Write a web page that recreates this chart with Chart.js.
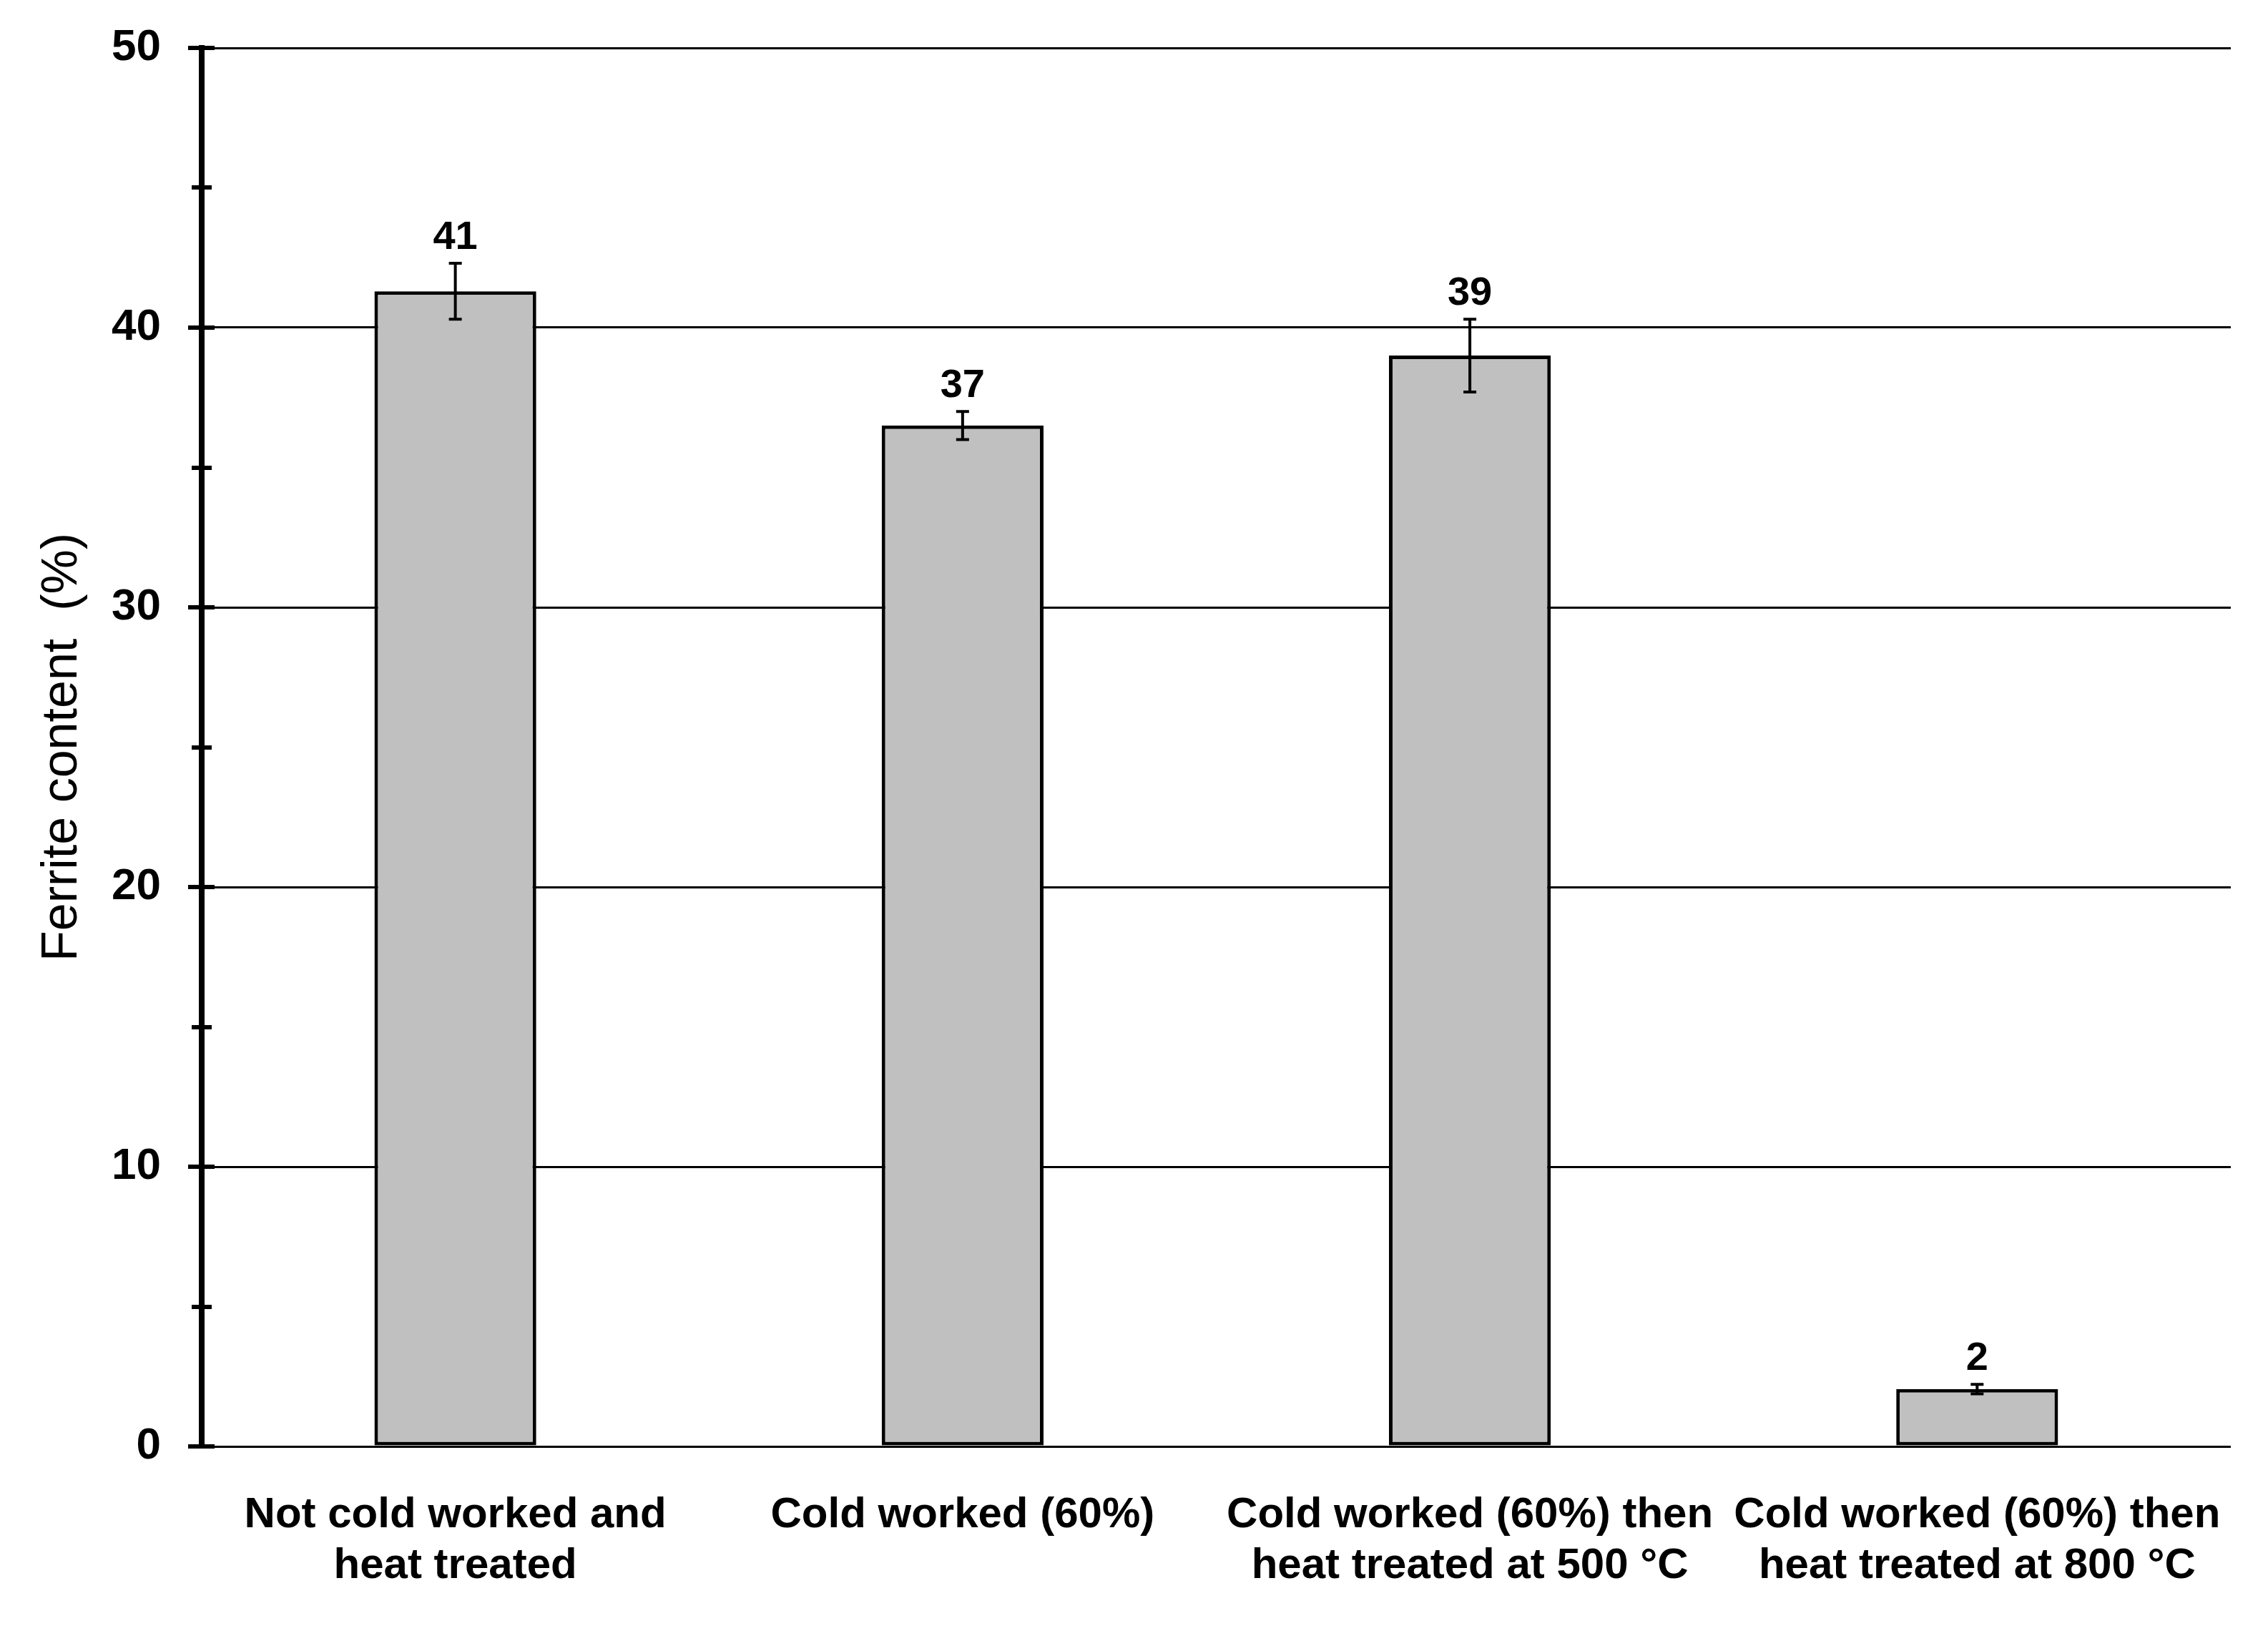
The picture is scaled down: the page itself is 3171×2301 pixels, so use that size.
<!DOCTYPE html>
<html>
<head>
<meta charset="utf-8">
<script src="https://cdn.jsdelivr.net/npm/chart.js@4/dist/chart.umd.min.js"></script>
<style>
  html, body { margin: 0; padding: 0; background: #fff; }
  canvas { display: block; }
</style>
</head>
<body>
<canvas id="ferriteChart" width="3171" height="2301"></canvas>
<script>
const categories = [
    ['Not cold worked and', 'heat treated'],
    'Cold worked (60%)',
    ['Cold worked (60%) then', 'heat treated at 500 °C'],
    ['Cold worked (60%) then', 'heat treated at 800 °C'],
];
const ferrite = [41.3, 36.5, 39.0, 2.05];
const ferriteError = [1.0, 0.5, 1.3, 0.17];
const yMin = 0;
const yMax = 50;
const majorStep = 10;
const minorStep = 5;

const FONT = "'Liberation Sans', Arial, sans-serif";

// tick marks crossing the y axis, major and minor
const axisTicks = {
    id: 'axisTicks',
    afterDatasetsDraw(chart) {
        const { ctx } = chart;
        const y = chart.scales.y;
        const x0 = chart.chartArea.left;
        ctx.save();
        ctx.strokeStyle = '#000';
        ctx.lineWidth = 6;
        for (let v = y.min; v <= y.max; v += minorStep) {
            const py = Math.round(y.getPixelForValue(v));
            const major = v % majorStep === 0;
            ctx.beginPath();
            ctx.moveTo(x0 - (major ? 19 : 14), py);
            ctx.lineTo(x0 + (major ? 18 : 14), py);
            ctx.stroke();
        }
        ctx.restore();
    },
};

// error bars and value labels above them
const errorBars = {
    id: 'errorBars',
    afterDatasetsDraw(chart) {
        const { ctx } = chart;
        const y = chart.scales.y;
        const meta = chart.getDatasetMeta(0);
        ctx.save();
        ctx.strokeStyle = '#000';
        ctx.fillStyle = '#000';
        meta.data.forEach((bar, i) => {
            const v = ferrite[i];
            const e = ferriteError[i];
            const top = y.getPixelForValue(v + e);
            const bottom = y.getPixelForValue(v - e);
            ctx.lineWidth = 4;
            ctx.beginPath();
            ctx.moveTo(bar.x, top);
            ctx.lineTo(bar.x, bottom);
            ctx.moveTo(bar.x - 9, top);
            ctx.lineTo(bar.x + 9, top);
            ctx.moveTo(bar.x - 9, bottom);
            ctx.lineTo(bar.x + 9, bottom);
            ctx.stroke();

            ctx.font = 'bold 56px ' + FONT;
            ctx.textAlign = 'center';
            ctx.textBaseline = 'alphabetic';
            ctx.fillText(String(Math.round(v)), bar.x, top - 20);
        });
        ctx.restore();
    },
};

new Chart(document.getElementById('ferriteChart'), {
    type: 'bar',
    data: {
        labels: categories,
        datasets: [
            {
                label: 'Ferrite content',
                data: ferrite,
                backgroundColor: '#c0c0c0',
                borderColor: '#000',
                borderWidth: 5,
                borderSkipped: false,
                categoryPercentage: 1,
                barPercentage: 0.319,
            },
        ],
    },
    options: {
        responsive: false,
        animation: false,
        layout: {
            padding: { top: 67, right: 45, left: 0, bottom: 0 },
        },
        plugins: {
            legend: { display: false },
            tooltip: { enabled: false },
        },
        scales: {
            x: {
                grid: { display: false, drawTicks: false },
                border: { display: false },
                ticks: {
                    color: '#000',
                    padding: 61,
                    maxRotation: 0,
                    autoSkip: false,
                    font: { family: FONT, size: 60, weight: 'bold', lineHeight: 1.18 },
                },
                afterFit(scale) {
                    scale.height = 279;
                },
            },
            y: {
                min: yMin,
                max: yMax,
                ticks: {
                    stepSize: majorStep,
                    color: '#000',
                    padding: 57,
                    font: { family: FONT, size: 62, weight: 'bold' },
                },
                grid: {
                    color: '#000',
                    lineWidth: 3,
                    drawTicks: false,
                },
                border: { display: true, color: '#000', width: 8 },
                title: {
                    display: true,
                    text: 'Ferrite content  (%)',
                    color: '#000',
                    padding: { top: 46, bottom: 0 },
                    font: { family: FONT, size: 70, weight: 'normal', lineHeight: 1.2 },
                },
                afterFit(scale) {
                    scale.width = 282;
                    scale.paddingTop = 0;
                    scale.paddingBottom = 0;
                },
            },
        },
    },
    plugins: [axisTicks, errorBars],
});
</script>
</body>
</html>
